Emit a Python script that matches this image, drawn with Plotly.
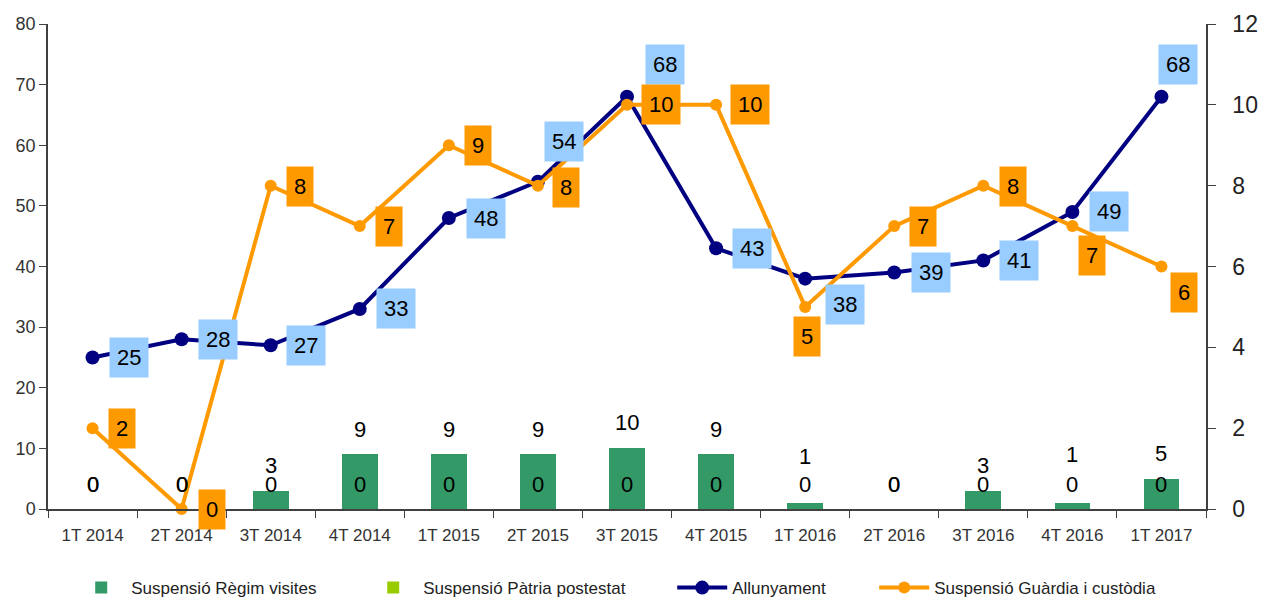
import plotly.graph_objects as go

categories = ["1T 2014", "2T 2014", "3T 2014", "4T 2014", "1T 2015", "2T 2015", "3T 2015",
              "4T 2015", "1T 2016", "2T 2016", "3T 2016", "4T 2016", "1T 2017"]
regim_visites = [0, 0, 3, 9, 9, 9, 10, 9, 1, 0, 3, 1, 5]
patria_potestat = [0, 0, 0, 0, 0, 0, 0, 0, 0, 0, 0, 0, 0]
allunyament = [25, 28, 27, 33, 48, 54, 68, 43, 38, 39, 41, 49, 68]
guardia_custodia = [2, 0, 8, 7, 9, 8, 10, 10, 5, 7, 8, 7, 6]

# label placement offsets (pixels)
navy_dx = [36, 36, 35, 36, 37, 26, 38, 36, 40, 37, 36, 37, 17]
navy_dy = [0, 0, 0, 0, 0, 40, 32, 0, -26, 0, 0, 0, 32]
orange_dx = [29, 30, 29, 29, 29, 28, 34, 34, 2, 29, 30, 20, 23]
orange_dy = [0, 0, -1, 0, 0, -2, 0, 0, -30, 0, -1, -29, -26]
regim_dy = [25, 25, 25, 25, 25, 25, 26, 25, 46, 25, 25, 48, 25]

FONT = "Liberation Sans, Arial, sans-serif"
GREEN = "#339966"
LIME = "#99CC00"
NAVY = "#000080"
ORANGE = "#FF9900"
BLUEBOX = "#99CCFF"
AXIS = "#404040"

fig = go.Figure()
fig.add_trace(go.Bar(x=categories, y=regim_visites, name="Suspensió Règim visites",
                     marker=dict(color=GREEN, line=dict(width=0)), legend="legend"))
fig.add_trace(go.Bar(x=categories, y=patria_potestat, name="Suspensió Pàtria postestat",
                     marker=dict(color=LIME, line=dict(width=0)), legend="legend2"))
fig.add_trace(go.Scatter(x=categories, y=allunyament, name="Allunyament", mode="lines+markers",
                         line=dict(color=NAVY, width=4), marker=dict(color=NAVY, size=14),
                         cliponaxis=False, legend="legend3"))
fig.add_trace(go.Scatter(x=categories, y=guardia_custodia, name="Suspensió Guàrdia i custòdia",
                         mode="lines+markers", yaxis="y2",
                         line=dict(color=ORANGE, width=4), marker=dict(color=ORANGE, size=12),
                         cliponaxis=False, legend="legend4"))

ann = []
for i, c in enumerate(categories):
    ann.append(dict(x=c, y=regim_visites[i], xref="x", yref="y", text=str(regim_visites[i]),
                    showarrow=False, yshift=regim_dy[i], font=dict(family=FONT, size=22, color="black")))
    ann.append(dict(x=c, y=patria_potestat[i], xref="x", yref="y", text=str(patria_potestat[i]),
                    showarrow=False, yshift=25, font=dict(family=FONT, size=22, color="black")))
for i, c in enumerate(categories):
    ann.append(dict(x=c, y=allunyament[i], xref="x", yref="y", text=str(allunyament[i]),
                    showarrow=False, xshift=navy_dx[i], yshift=navy_dy[i], bgcolor=BLUEBOX,
                    borderpad=7, font=dict(family=FONT, size=22, color="black")))
for i, c in enumerate(categories):
    ann.append(dict(x=c, y=guardia_custodia[i], xref="x", yref="y2", text=str(guardia_custodia[i]),
                    showarrow=False, xshift=orange_dx[i], yshift=orange_dy[i], bgcolor=ORANGE,
                    borderpad=7, font=dict(family=FONT, size=22, color="black")))

leg_common = dict(orientation="h", yanchor="middle", y=-0.163, xanchor="left",
                  font=dict(family=FONT, size=17, color="#222222"), bgcolor="rgba(0,0,0,0)",
                  itemwidth=50)
lx = -0.005 + 2 / 1158

fig.update_layout(
    width=1264, height=601,
    margin=dict(l=48, r=58, t=24, b=92, autoexpand=False),
    paper_bgcolor="white", plot_bgcolor="white",
    barmode="stack", bargap=0.6,
    font=dict(family=FONT, color="#333333"),
    xaxis=dict(type="category", range=[-0.5, len(categories) - 0.5], showline=True,
               linecolor=AXIS, linewidth=1.5,
               ticks="outside", tickson="boundaries", ticklen=7, tickcolor=AXIS,
               ticklabelstandoff=10,
               tickfont=dict(size=17, color="#333333"), showgrid=False, automargin=False),
    yaxis=dict(range=[0, 80], dtick=10, showline=True, linecolor=AXIS, linewidth=1.5,
               ticks="outside", ticklen=7, tickcolor=AXIS, showgrid=False, zeroline=False,
               tickfont=dict(size=18, color="#333333"), automargin=False),
    yaxis2=dict(range=[0, 12], dtick=2, overlaying="y", side="right", showline=True,
                linecolor=AXIS, linewidth=1.5, ticks="outside", ticklen=8, tickcolor=AXIS,
                ticklabelstandoff=12,
                showgrid=False, zeroline=False, tickfont=dict(size=23, color="#222222"),
                automargin=False),
    annotations=ann,
    showlegend=True,
    legend=dict(leg_common, x=(75 - 48) / 1158 + lx),
    legend2=dict(leg_common, x=(367 - 48) / 1158 + lx),
    legend3=dict(leg_common, x=(676 - 48) / 1158 + lx),
    legend4=dict(leg_common, x=(876 - 48) / 1158 + lx + 2 / 1158),
)

fig.write_html("out.html", config={"displayModeBar": False},
               post_script="document.body.style.margin='0';document.body.style.overflow='hidden';")
